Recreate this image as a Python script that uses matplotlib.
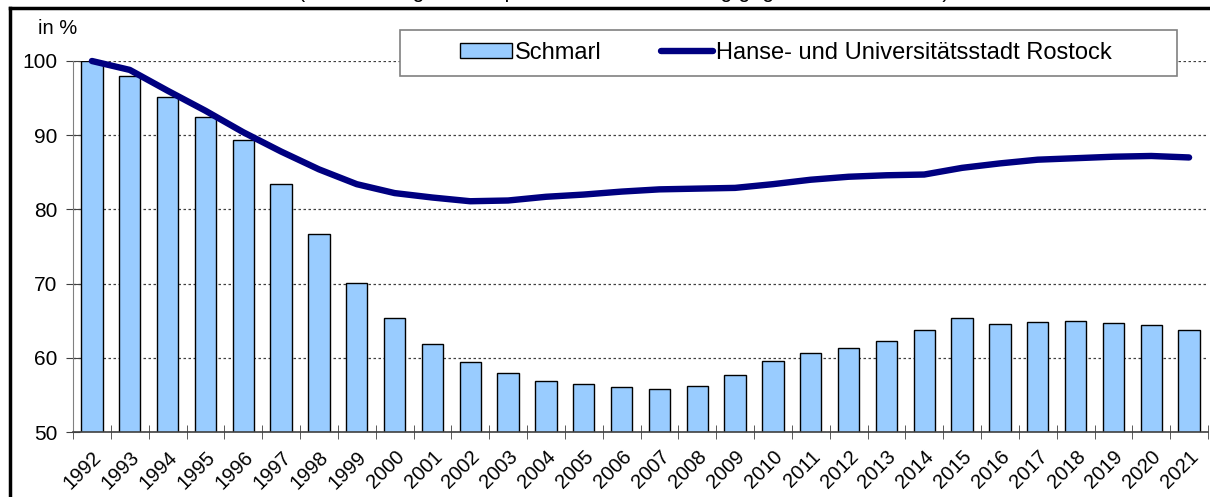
import matplotlib.pyplot as plt
from matplotlib.lines import Line2D
from matplotlib.patches import Rectangle
import numpy as np

plt.rcParams['font.family'] = ['Liberation Sans', 'DejaVu Sans']

years = [str(y) for y in range(1992, 2022)]
schmarl = [100.0, 98.0, 95.1, 92.4, 89.4, 83.4, 76.7, 70.1, 65.4, 61.8,
           59.5, 58.0, 56.9, 56.5, 56.0, 55.8, 56.2, 57.7, 59.6, 60.6,
           61.3, 62.2, 63.7, 65.4, 64.6, 64.8, 65.0, 64.7, 64.4, 63.75]
rostock = [100.0, 98.8, 96.0, 93.3, 90.4, 87.8, 85.4, 83.4, 82.2, 81.6,
           81.1, 81.2, 81.7, 82.0, 82.4, 82.7, 82.8, 82.9, 83.4, 84.0,
           84.4, 84.6, 84.7, 85.6, 86.2, 86.7, 86.9, 87.1, 87.2, 87.0]
yticks = [50, 60, 70, 80, 90, 100]

bar_col = '#99CCFF'
line_col = '#000080'

W, H = 1210, 497
fig = plt.figure(figsize=(W / 100, H / 100), dpi=100)
ax = fig.add_axes([73 / W, 1 - 432 / H, (1208 - 73) / W, (432 - 61) / H])

x = np.arange(len(years))
ax.bar(x, schmarl, width=0.56, bottom=0, color=bar_col, edgecolor='black',
       linewidth=1, zorder=2)
ax.plot(x, rostock, color=line_col, lw=4.6, solid_capstyle='round',
        zorder=3, clip_on=False)

ax.set_xlim(-0.5, len(years) - 0.5)
ax.set_ylim(50, 100)

ax.set_yticks(yticks)
ax.set_yticklabels([str(v) for v in yticks], fontsize=15)
ax.set_xticks(x)
ax.set_xticklabels(years, fontsize=14.5, rotation=45, ha='right',
                   rotation_mode='anchor')
ax.set_xticks(np.arange(len(years) + 1) - 0.5, minor=True)
ax.tick_params(axis='x', which='major', length=0, pad=11)
ax.tick_params(axis='x', which='minor', direction='inout', length=10,
               color='#404040')
ax.tick_params(axis='y', direction='inout', length=10, color='#404040', pad=6)

ax.yaxis.grid(True, color='#404040', linestyle=(0, (2, 2)), lw=0.9, zorder=0)
ax.set_axisbelow(True)
for s in ['top', 'right']:
    ax.spines[s].set_visible(False)
ax.spines['left'].set_color('#808080')
ax.spines['bottom'].set_color('#404040')
ax.spines['bottom'].set_linewidth(1.2)

fig.text(38 / W, 1 - 28 / H, 'in %', fontsize=14.5, va='center', ha='left')

# outer frame (top + left)
fig.add_artist(Line2D([10 / W, 1], [1 - 8 / H, 1 - 8 / H], color='black',
                      lw=2.5, transform=fig.transFigure))
fig.add_artist(Line2D([10 / W, 10 / W], [0, 1 - 8 / H], color='black',
                      lw=2.5, transform=fig.transFigure))

# title, cut off at the top edge of the picture
fig.text(10 / W, 1.0 + 4 / H, 'Bevölkerungsentwicklung', fontsize=15,
         fontweight='bold', va='baseline', ha='left')
fig.text(298 / W, 1.0 + 3 / H,
         '(Bevölkerung mit Hauptwohnsitz, Entwicklung gegenüber 1992 in %)',
         fontsize=15.5, va='baseline', ha='left')

# legend box
fig.add_artist(Rectangle((400 / W, 1 - 76 / H), (1177 - 400) / W, 46 / H,
                         transform=fig.transFigure, facecolor='white',
                         edgecolor='#808080', lw=1.2, zorder=5))
handles = [Rectangle((0, 0), 1, 1, facecolor=bar_col, edgecolor='black', lw=1),
           Line2D([], [], color=line_col, lw=4.6, solid_capstyle='round')]
leg = fig.legend(handles, ['Schmarl', 'Hanse- und Universitätsstadt Rostock'],
                 loc='center left', bbox_to_anchor=(460 / W, 1 - 53 / H),
                 ncol=2, frameon=False, fontsize=17, handlelength=2.2,
                 handleheight=0.6, handletextpad=0.13, columnspacing=2.5,
                 borderaxespad=0, borderpad=0)
leg.set_zorder(6)

fig.savefig('out.png', dpi=100)
